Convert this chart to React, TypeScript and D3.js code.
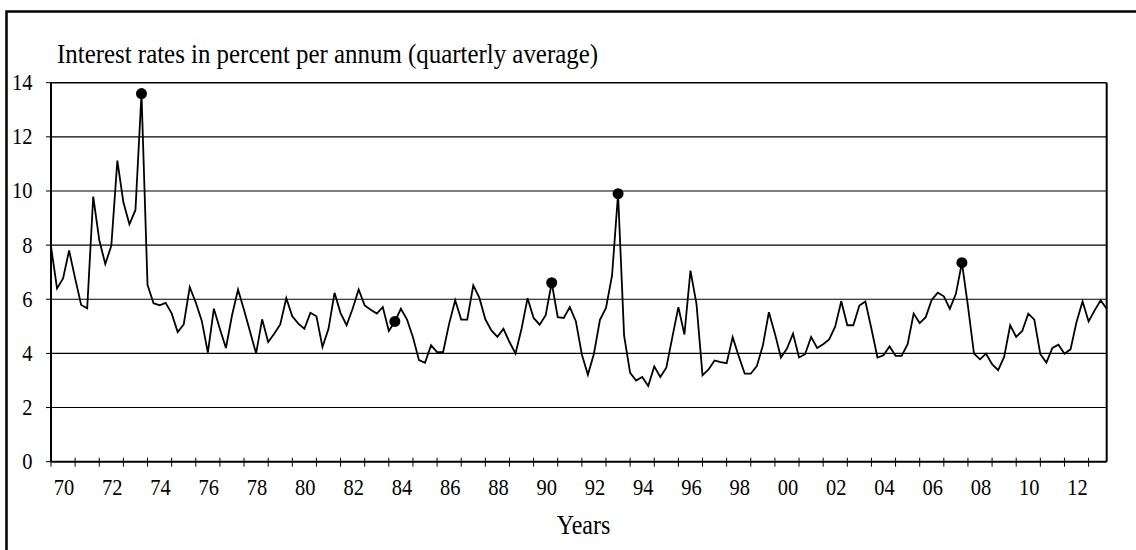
import * as d3 from 'd3';

// quarterly averages, percent p.a. (1970Q1 .. 2013Q4)
const rates1970s = [
  7.95, 6.4, 6.77, 7.8, 6.77, 5.79, 5.67, 9.79, 8.19, 7.3, 7.98, 11.12, 9.58, 8.77, 9.3, 13.6,
  6.53, 5.85, 5.78, 5.87, 5.48, 4.79, 5.07, 6.45, 5.88, 5.2, 4.03, 5.65, 4.9, 4.2, 5.4, 6.36,
  5.6, 4.8, 4.0, 5.26, 4.42, 4.73, 5.07, 6.04,
];
const rates1980s = [
  5.37, 5.1, 4.91, 5.5, 5.37, 4.24, 4.91, 6.24, 5.49, 5.04, 5.65, 6.36, 5.77, 5.61, 5.47, 5.71,
  4.83, 5.18, 5.65, 5.26, 4.6, 3.75, 3.65, 4.3, 4.05, 4.05, 5.1, 5.96, 5.25, 5.25, 6.51, 6.06,
  5.26, 4.85, 4.61, 4.91, 4.42, 4.0, 4.91, 6.04,
];
const rates1990s = [
  5.31, 5.06, 5.41, 6.61, 5.34, 5.31, 5.71, 5.19, 3.96, 3.21, 3.99, 5.24, 5.68, 6.87, 9.9, 4.66,
  3.28, 3.0, 3.13, 2.8, 3.52, 3.13, 3.47, 4.6, 5.71, 4.7, 7.06, 5.83, 3.19, 3.41, 3.74, 3.68,
  3.64, 4.6, 3.9, 3.25, 3.25, 3.53, 4.29, 5.52,
];
const rates2000s = [
  4.73, 3.85, 4.18, 4.73, 3.85, 3.97, 4.61, 4.2, 4.34, 4.52, 5.0, 5.93, 5.04, 5.04, 5.77, 5.92,
  4.91, 3.85, 3.93, 4.26, 3.91, 3.91, 4.34, 5.47, 5.12, 5.34, 5.98, 6.24, 6.11, 5.65, 6.2, 7.35,
  5.75, 3.99, 3.78, 3.99, 3.6, 3.38, 3.87, 5.04,
];
const rates2010s = [4.61, 4.83, 5.47, 5.25, 3.97, 3.66, 4.2, 4.32, 3.99, 4.15, 5.16, 5.92, 5.18, 5.59, 5.96, 5.65];

const markedQuarters = ['1973Q4', '1984Q2', '1990Q4', '1993Q3', '2007Q4'];
const yearLabels = ['70', '72', '74', '76', '78', '80', '82', '84', '86', '88', '90', '92', '94', '96', '98', '00', '02', '04', '06', '08', '10', '12'];
const yTicks = [0, 2, 4, 6, 8, 10, 12, 14];

const rates = [...rates1970s, ...rates1980s, ...rates1990s, ...rates2000s, ...rates2010s];
const quarters = rates.map((_, i) => `${1970 + Math.floor(i / 4)}Q${(i % 4) + 1}`);

const W = 1136;
const H = 550;
const plot = { left: 51, right: 1106.7, top: 82.7, bottom: 461.7 };
const font = '"Liberation Serif", "Times New Roman", serif';
const stretch = 'scale(1,1.12)';

export default function App() {
  const x = d3.scaleLinear().domain([0, rates.length - 1]).range([plot.left, plot.right]);
  const y = d3.scaleLinear().domain([0, 14]).range([plot.bottom, plot.top]);

  const line = d3
    .line<number>()
    .x((_, i) => x(i))
    .y(d => y(d));

  const yearTicks = d3.range(0, rates.length, 4);
  const marks = markedQuarters.map(q => quarters.indexOf(q));

  return (
    <svg
      width={W}
      height={H}
      style={{ position: 'absolute', left: 0, top: 0, background: '#fff' }}
      fontFamily={font}
    >
      <rect x={0} y={0} width={W} height={H} fill="#fff" />
      {/* outer frame, cut off at right and bottom */}
      <rect x={6.5} y={11.5} width={W + 20} height={H + 20} fill="none" stroke="#000" strokeWidth={2.5} />

      <text transform={`translate(57,62.7) ${stretch}`} fontSize={24} textLength={541} lengthAdjust="spacingAndGlyphs">
        Interest rates in percent per annum (quarterly average)
      </text>

      {/* gridlines */}
      {yTicks.filter(t => t > 0 && t < 14).map(t => (
        <line key={t} x1={plot.left} x2={plot.right} y1={y(t)} y2={y(t)} stroke="#000" strokeWidth={1.1} />
      ))}

      {/* plot border */}
      <line x1={plot.left} x2={plot.right} y1={y(14)} y2={y(14)} stroke="#000" strokeWidth={1.6} />
      <line x1={plot.right} x2={plot.right} y1={plot.top} y2={plot.bottom} stroke="#000" strokeWidth={2} />

      {/* y axis */}
      <line x1={plot.left} x2={plot.left} y1={plot.top} y2={plot.bottom} stroke="#000" strokeWidth={2} />
      {yTicks.map(t => (
        <g key={t}>
          <line x1={plot.left - 5} x2={plot.left} y1={y(t)} y2={y(t)} stroke="#000" strokeWidth={1} />
          <text transform={`translate(32.5,${y(t) + 7.5}) ${stretch}`} fontSize={20.5} textAnchor="end">
            {t}
          </text>
        </g>
      ))}

      {/* x axis */}
      <line x1={plot.left} x2={plot.right} y1={plot.bottom} y2={plot.bottom} stroke="#000" strokeWidth={2} />
      {yearTicks.map(i => (
        <line key={i} x1={x(i)} x2={x(i)} y1={plot.bottom - 4} y2={plot.bottom + 5} stroke="#000" strokeWidth={1} />
      ))}
      {yearLabels.map((lab, k) => (
        <text key={lab} transform={`translate(${x(k * 8 + 2) + 1},495) ${stretch}`} fontSize={20.5} textAnchor="middle">
          {lab}
        </text>
      ))}
      <text transform={`translate(583.5,534) ${stretch}`} fontSize={24} textAnchor="middle">
        Years
      </text>

      {/* series */}
      <path d={line(rates) ?? ''} fill="none" stroke="#000" strokeWidth={1.8} strokeLinejoin="miter" />
      {marks.map(i => (
        <circle key={i} cx={x(i)} cy={y(rates[i])} r={5.5} fill="#000" />
      ))}
    </svg>
  );
}
